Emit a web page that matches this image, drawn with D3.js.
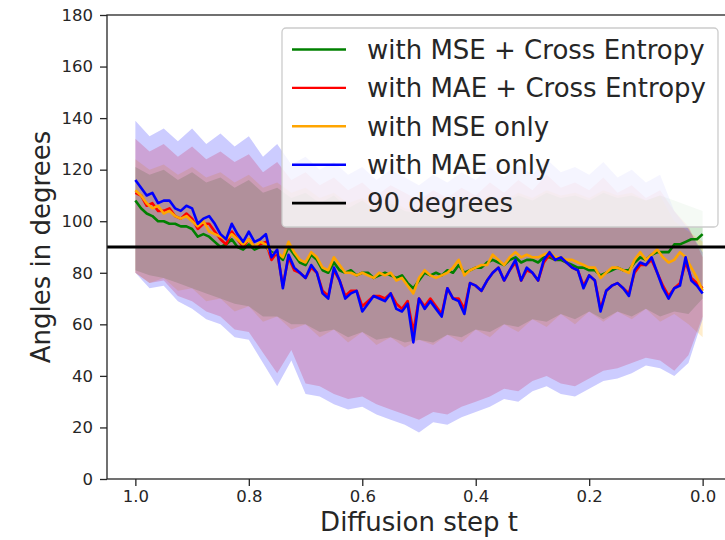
<!DOCTYPE html>
<html>
<head>
<meta charset="utf-8">
<script src="https://cdn.jsdelivr.net/npm/d3@7"></script>
<style>
  body { margin: 0; background: #fff; }
  text { font-family: "DejaVu Sans", sans-serif; }
</style>
</head>
<body>
<div class="chart"></div>
<script>
// Angles between predicted and true noise over the diffusion steps

// step grid of the mean curves (1.0 -> 0.0 every 0.01) and of the bands (every 0.025)
var stepsMean = d3.range(101).map(function(k) { return +(1 - k / 100).toFixed(2); });
var stepsBand = d3.range(41).map(function(k) { return +(1 - k / 40).toFixed(3); });

// with MSE + Cross Entropy
var mseCeMean = [108, 105, 103, 102, 100, 100, 99, 99, 98, 98,
  97, 94, 95, 94, 92, 90, 91, 93, 90, 89,
  91, 89, 90, 90, 88, 87, 85, 90, 87, 84,
  83, 87, 85, 81, 80, 84, 81, 80, 81, 79,
  80, 80, 78, 79, 80, 79, 78, 79, 76, 74,
  77, 80, 79, 80, 79, 81, 80, 83, 80, 81,
  82, 82, 84, 85, 84, 83, 85, 86, 84, 85,
  85, 84, 86, 86, 85, 85, 84, 83, 82, 82,
  81, 81, 79, 80, 81, 82, 81, 81, 84, 86,
  85, 87, 88, 88, 88, 91, 91, 92, 93, 93, 95];
var mseCeLo = [81, 79, 78, 76, 74, 72, 70, 68, 67, 63, 63, 60, 60, 57, 58, 55, 57, 54, 55, 53,
  54, 53, 56, 55, 58, 57, 60, 59, 62, 61, 64, 62, 65, 62, 65, 63, 66, 63, 65, 64, 70];
var mseCeHi = [121, 118, 120, 116, 119, 115, 117, 113, 116, 111, 113, 109, 111, 107, 110, 105, 108, 104, 107, 104,
  103, 105, 104, 107, 106, 109, 107, 110, 108, 111, 109, 110, 108, 111, 109, 110, 108, 110, 108, 106, 104];

// with MAE + Cross Entropy
var maeCeMean = [111, 110, 106, 107, 104, 104, 105, 102, 101, 103,
  101, 97, 99, 99, 96, 93, 91, 96, 93, 90,
  93, 90, 91, 92, 85, 88, 75, 86, 81, 80,
  78, 82, 80, 73, 71, 81, 77, 71, 73, 73,
  67, 69, 71, 71, 70, 72, 68, 66, 69, 57,
  70, 67, 70, 67, 64, 74, 70, 70, 66, 76,
  75, 73, 77, 80, 82, 77, 81, 84, 77, 81,
  80, 77, 84, 87, 85, 86, 84, 82, 81, 75,
  79, 77, 66, 73, 75, 76, 74, 72, 80, 83,
  83, 85, 80, 75, 71, 74, 76, 84, 78, 76, 74];
var maeCeLo = [80, 76, 77, 71, 69, 65, 63, 58, 57, 49, 41, 50, 37, 36, 33, 31, 32, 29, 27, 25,
  23, 26, 25, 28, 30, 32, 35, 34, 38, 40, 37, 36, 39, 42, 43, 45, 47, 46, 42, 48, 63];
var maeCeHi = [132, 127, 130, 125, 129, 124, 127, 123, 126, 119, 123, 116, 119, 114, 117, 112, 115, 110, 114, 111,
  108, 112, 109, 113, 110, 115, 111, 116, 112, 118, 113, 115, 112, 117, 111, 114, 109, 112, 104, 98, 86];

// with MSE only
var mseOnlyMean = [112, 110, 107, 105, 106, 103, 104, 102, 101, 102,
  100, 98, 100, 96, 95, 94, 93, 95, 93, 91,
  93, 90, 92, 91, 87, 88, 86, 92, 88, 85,
  84, 88, 86, 82, 81, 86, 83, 80, 80, 79,
  80, 79, 78, 80, 79, 80, 77, 78, 75, 72,
  78, 81, 79, 78, 79, 80, 82, 85, 79, 81,
  82, 83, 83, 87, 85, 83, 86, 88, 86, 87,
  86, 86, 87, 88, 86, 86, 85, 85, 84, 83,
  82, 82, 78, 80, 82, 82, 81, 80, 85, 88,
  85, 87, 89, 86, 84, 85, 88, 86, 82, 78, 73];
var mseOnlyLo = [80, 76, 78, 73, 74, 69, 70, 65, 67, 61, 63, 58, 60, 55, 58, 53, 57, 52, 55, 51,
  54, 52, 56, 53, 58, 55, 60, 57, 62, 59, 64, 60, 65, 61, 65, 62, 66, 61, 64, 60, 55];
var mseOnlyHi = [124, 120, 122, 118, 121, 117, 119, 115, 118, 113, 115, 111, 113, 109, 111, 107, 109, 106, 108, 105,
  104, 106, 105, 108, 107, 110, 108, 111, 109, 112, 110, 111, 109, 112, 110, 111, 108, 110, 100, 96, 92];

// with MAE only
var maeOnlyMean = [116, 113, 110, 111, 107, 108, 108, 105, 104, 106,
  105, 99, 101, 102, 99, 95, 93, 99, 95, 92,
  96, 92, 93, 95, 86, 89, 74, 87, 82, 80,
  78, 83, 80, 72, 70, 82, 77, 70, 72, 73,
  65, 68, 71, 70, 69, 72, 66, 65, 68, 53,
  70, 66, 69, 66, 63, 74, 70, 69, 64, 76,
  75, 73, 77, 80, 82, 77, 81, 85, 77, 82,
  80, 77, 85, 88, 85, 86, 84, 82, 81, 74,
  79, 77, 65, 73, 75, 76, 74, 71, 81, 84,
  83, 86, 80, 74, 70, 74, 75, 86, 77, 75, 72];
var maeOnlyLo = [80, 74, 75, 69, 66, 62, 60, 55, 54, 45, 36, 46, 33, 32, 29, 27, 28, 25, 23, 21,
  18, 22, 21, 24, 26, 28, 31, 30, 34, 36, 33, 32, 35, 38, 39, 41, 44, 43, 40, 45, 62];
var maeOnlyHi = [139, 133, 136, 131, 136, 130, 134, 129, 133, 125, 130, 122, 125, 120, 123, 118, 121, 116, 120, 117,
  114, 118, 115, 119, 116, 121, 117, 122, 118, 124, 119, 121, 118, 123, 117, 120, 115, 118, 104, 97, 88];

var seriesNames = ["with MSE + Cross Entropy", "with MAE + Cross Entropy", "with MSE only", "with MAE only"];
var seriesColors = ["#008000", "#ff0000", "#ffa500", "#0000ff"];
var refAngle = 90;
var refName = "90 degrees";

var xTicks = [1.0, 0.8, 0.6, 0.4, 0.2, 0.0];
var yTicks = [0, 20, 40, 60, 80, 100, 120, 140, 160, 180];

var series = [
  { name: seriesNames[0], color: seriesColors[0], mean: mseCeMean, lo: mseCeLo, hi: mseCeHi },
  { name: seriesNames[1], color: seriesColors[1], mean: maeCeMean, lo: maeCeLo, hi: maeCeHi },
  { name: seriesNames[2], color: seriesColors[2], mean: mseOnlyMean, lo: mseOnlyLo, hi: mseOnlyHi },
  { name: seriesNames[3], color: seriesColors[3], mean: maeOnlyMean, lo: maeOnlyLo, hi: maeOnlyHi }
];

var svgWidth = 725;
var svgHeight = 540;
var margin = { top: 15, left: 107 };
var width = 624;   // right spine falls just outside the picture
var height = 464;

var svg = d3.select(".chart")
  .append("svg")
  .attr("width", svgWidth)
  .attr("height", svgHeight)
  .style("display", "block");

var chart = svg.append("g")
  .attr("transform", "translate(" + margin.left + "," + margin.top + ")");

var xScale = d3.scaleLinear().domain([1.05, -0.05]).range([0, width]);
var yScale = d3.scaleLinear().domain([0, 180]).range([height, 0]);

chart.append("clipPath").attr("id", "plot-clip")
  .append("rect").attr("width", width).attr("height", height);

var plot = chart.append("g").attr("clip-path", "url(#plot-clip)");

// shaded bands first, lines on top (matplotlib z-order)
series.forEach(function(s) {
  var area = d3.area()
    .x(function(d, i) { return xScale(stepsBand[i]); })
    .y0(function(d, i) { return yScale(s.lo[i]); })
    .y1(function(d, i) { return yScale(s.hi[i]); });
  plot.append("path")
    .datum(stepsBand)
    .attr("d", area)
    .attr("fill", s.color)
    .attr("fill-opacity", 0.2);
});

series.forEach(function(s) {
  var line = d3.line()
    .x(function(d, i) { return xScale(stepsMean[i]); })
    .y(function(d) { return yScale(d); });
  plot.append("path")
    .datum(s.mean)
    .attr("d", line)
    .attr("fill", "none")
    .attr("stroke", s.color)
    .attr("stroke-width", 2.6)
    .attr("stroke-linejoin", "round");
});

plot.append("line")
  .attr("x1", 0).attr("x2", width)
  .attr("y1", yScale(refAngle)).attr("y2", yScale(refAngle))
  .attr("stroke", "#000")
  .attr("stroke-width", 2.8);

// Axes
var bottomAxis = d3.axisBottom(xScale)
  .tickValues(xTicks)
  .tickFormat(d3.format(".1f"))
  .tickSize(7)
  .tickPadding(4);
var leftAxis = d3.axisLeft(yScale)
  .tickValues(yTicks)
  .tickSize(7)
  .tickPadding(7);

var gx = chart.append("g")
  .attr("transform", "translate(0," + height + ")")
  .style("color", "#262626")
  .call(bottomAxis);
var gy = chart.append("g")
  .style("color", "#262626")
  .call(leftAxis);

[gx, gy].forEach(function(g) {
  g.select(".domain").remove();
  g.selectAll(".tick line").attr("stroke-width", 1.3);
  g.selectAll(".tick text").attr("font-size", 16.5).attr("font-family", "DejaVu Sans");
});

// spines
chart.append("rect")
  .attr("x", 0).attr("y", 0)
  .attr("width", width).attr("height", height)
  .attr("fill", "none")
  .attr("stroke", "#262626")
  .attr("stroke-width", 1.3);

// Axis labels
chart.append("text")
  .attr("transform", "rotate(-90)")
  .attr("x", -height / 2)
  .attr("y", 50 - margin.left)
  .attr("text-anchor", "middle")
  .attr("font-size", 26)
  .attr("fill", "#262626")
  .text("Angles in degrees");

chart.append("text")
  .attr("x", width / 2)
  .attr("y", 531 - margin.top)
  .attr("text-anchor", "middle")
  .attr("font-size", 26)
  .attr("fill", "#262626")
  .text("Diffusion step t");

// Legend
var legendItems = series.map(function(s) { return { name: s.name, color: s.color }; });
legendItems.push({ name: refName, color: "#000" });

var legend = svg.append("g").attr("transform", "translate(282,28)");
legend.append("rect")
  .attr("width", 436)
  .attr("height", 199)
  .attr("rx", 4)
  .attr("fill", "#fff")
  .attr("fill-opacity", 0.8)
  .attr("stroke", "#cccccc")
  .attr("stroke-width", 1.3);

var rows = legend.selectAll(".row")
  .data(legendItems)
  .enter().append("g")
  .attr("class", "row")
  .attr("transform", function(d, i) { return "translate(0," + (21.5 + i * 38.4) + ")"; });

rows.append("line")
  .attr("x1", 10).attr("x2", 64)
  .attr("stroke", function(d) { return d.color; })
  .attr("stroke-width", function(d, i) { return i === 4 ? 2.8 : 2.4; });

rows.append("text")
  .attr("x", 85)
  .attr("dy", "0.36em")
  .attr("font-size", 26)
  .attr("fill", "#262626")
  .text(function(d) { return d.name; });
</script>
</body>
</html>
